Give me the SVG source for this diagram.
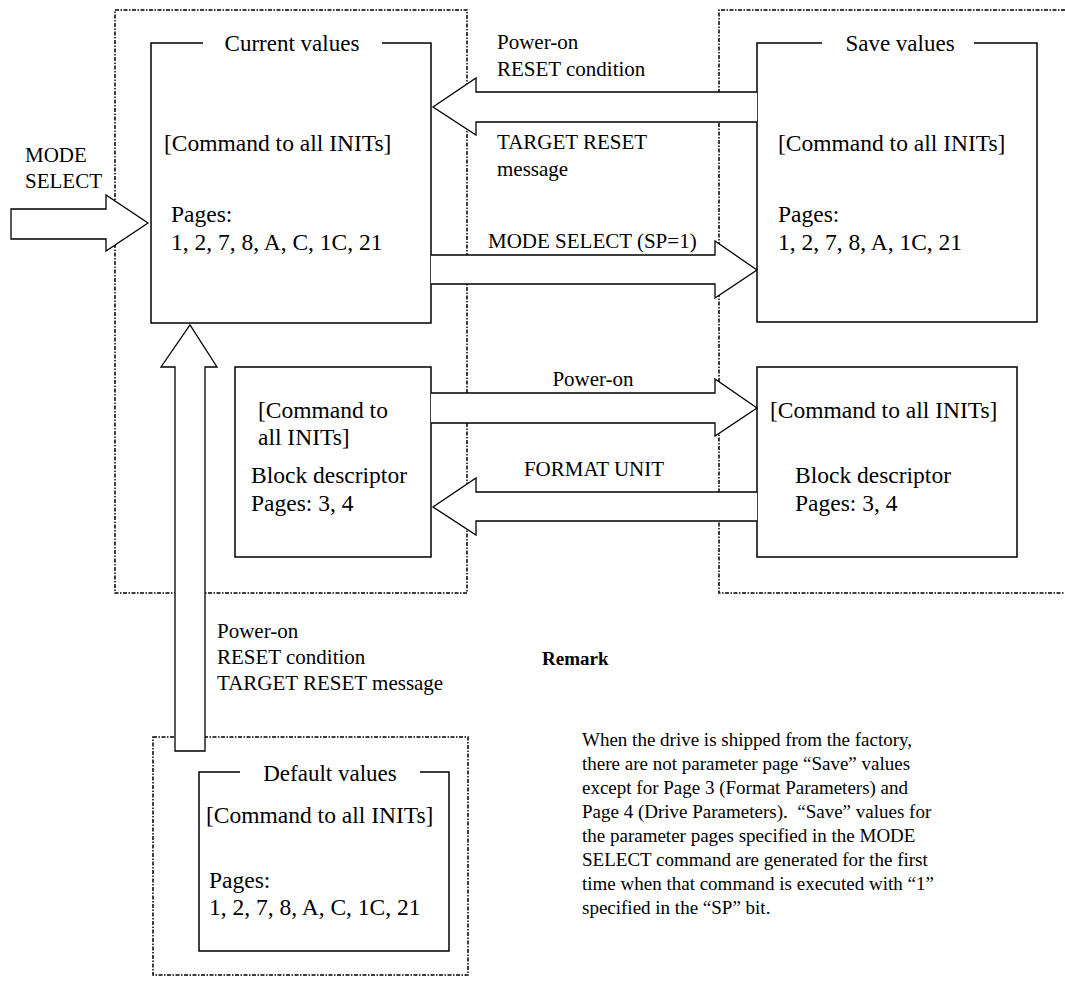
<svg xmlns="http://www.w3.org/2000/svg" width="1065" height="983" viewBox="0 0 1065 983">
<style>
text{font-family:"Liberation Serif","Times New Roman",serif;fill:#000}
.lbl{font-size:21px}
.box{font-size:23.5px}
.ttl{font-size:23px;text-anchor:middle}
.rm{font-size:19px}
.frame{fill:none;stroke:#000;stroke-width:1.5;stroke-dasharray:4 1.5 1.5 1.5}
.node{fill:#fff;stroke:#000;stroke-width:1.5}
.arrow{fill:#fff;stroke:#000;stroke-width:1.3;stroke-linejoin:miter}
</style>
<rect width="1065" height="983" fill="#fff"/>
<g id="frames">
<rect class="frame" x="115" y="10" width="352" height="583"/>
<path class="frame" d="M1065,10 H719 V593 H1065"/>
<rect class="frame" x="153" y="737" width="315" height="238"/>
</g>
<g id="current-values">
<path class="node" d="M203,43 H151 V323 H431 V43 H382"/>
<text class="ttl" x="292" y="51">Current values</text>
<text class="box" x="164" y="151">[Command to all INITs]</text>
<text class="box" x="171" y="222">Pages:</text>
<text class="box" x="171" y="250">1, 2, 7, 8, A, C, 1C, 21</text>
</g>
<g id="save-values">
<path class="node" d="M822,43 H757 V322 H1037 V43 H974"/>
<text class="ttl" x="900" y="51">Save values</text>
<text class="box" x="778" y="151">[Command to all INITs]</text>
<text class="box" x="778" y="222">Pages:</text>
<text class="box" x="778" y="250">1, 2, 7, 8, A, 1C, 21</text>
</g>
<g id="current-block">
<rect class="node" x="235" y="367" width="196" height="190"/>
<text class="box" x="258" y="418">[Command to</text>
<text class="box" x="258" y="445">all INITs]</text>
<text class="box" x="251" y="483">Block descriptor</text>
<text class="box" x="251" y="511">Pages: 3, 4</text>
</g>
<g id="save-block">
<rect class="node" x="757" y="367" width="260" height="190"/>
<text class="box" x="770" y="418">[Command to all INITs]</text>
<text class="box" x="795" y="483">Block descriptor</text>
<text class="box" x="795" y="511">Pages: 3, 4</text>
</g>
<g id="default-values">
<path class="node" d="M240,772 H199 V951 H449 V772 H420"/>
<text class="ttl" x="330" y="781">Default values</text>
<text class="box" x="206" y="823">[Command to all INITs]</text>
<text class="box" x="209" y="888">Pages:</text>
<text class="box" x="209" y="915">1, 2, 7, 8, A, C, 1C, 21</text>
</g>
<g id="connectors">
<path class="arrow" d="M11,209 H106 V195 L148,223 L106,251 V239 H11 Z"/>
<path class="arrow" d="M757,92 H476 V78 L433,107 L476,135 V122 H757"/>
<path class="arrow" d="M431,255 H715 V241 L757,270 L715,298 V284 H431"/>
<path class="arrow" d="M431,393 H715 V379 L757,408 L715,436 V423 H431"/>
<path class="arrow" d="M757,492 H476 V478 L433,507 L476,535 V521 H757"/>
<path class="arrow" d="M175,751 V367 H161 L190,325 L217,367 H205 V751 Z"/>
<text class="lbl" x="25" y="162">MODE</text>
<text class="lbl" x="25" y="188">SELECT</text>
<text class="lbl" x="497" y="49">Power-on</text>
<text class="lbl" x="497" y="76">RESET condition</text>
<text class="lbl" x="497" y="149">TARGET RESET</text>
<text class="lbl" x="497" y="176">message</text>
<text class="lbl" x="488" y="248">MODE SELECT (SP=1)</text>
<text class="lbl" x="593" y="386" text-anchor="middle">Power-on</text>
<text class="lbl" x="594" y="476" text-anchor="middle">FORMAT UNIT</text>
<text class="lbl" x="217" y="638">Power-on</text>
<text class="lbl" x="217" y="664">RESET condition</text>
<text class="lbl" x="217" y="690">TARGET RESET message</text>
</g>
<g id="remark">
<text x="542" y="665" style="font-size:19px;font-weight:bold">Remark</text>
<text class="rm" x="582" y="746">When the drive is shipped from the factory,</text>
<text class="rm" x="582" y="770">there are not parameter page “Save” values</text>
<text class="rm" x="582" y="794">except for Page 3 (Format Parameters) and</text>
<text class="rm" x="582" y="818">Page 4 (Drive Parameters).&#160; “Save” values for</text>
<text class="rm" x="582" y="842">the parameter pages specified in the MODE</text>
<text class="rm" x="582" y="866">SELECT command are generated for the first</text>
<text class="rm" x="582" y="890">time when that command is executed with “1”</text>
<text class="rm" x="582" y="914">specified in the “SP” bit.</text>
</g>
</svg>
